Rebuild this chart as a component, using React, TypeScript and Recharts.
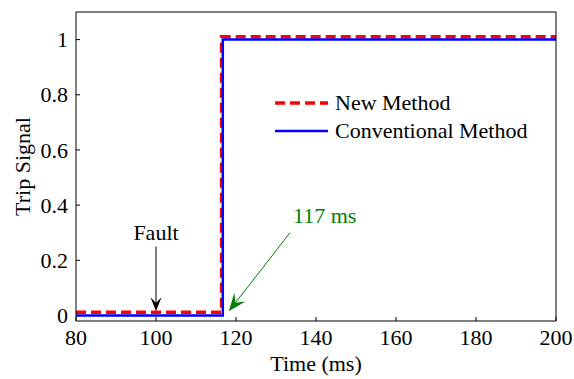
import { LineChart, Line, XAxis, YAxis, ReferenceLine } from "recharts";

// step signals: time (ms) -> trip signal
const newMethodT = [80, 116.4, 200];
const newMethodV = [0.012, 1.01, 1.01];
const convT = [80, 116.7, 200];
const convV = [0, 1, 1];

const xTicks = [80, 100, 120, 140, 160, 180, 200];
const yTicks = [0, 0.2, 0.4, 0.6, 0.8, 1];

const FONT = "'Liberation Serif', 'Times New Roman', serif";

const newData = newMethodT.map((t, i) => ({ t, v: newMethodV[i] }));
const convData = convT.map((t, i) => ({ t, v: convV[i] }));

function arrowShape(color: string, label: string, textSide: "top" | "right", L: number, W: number) {
  return (props: any) => {
    const { x1, y1, x2, y2 } = props;
    const ang = Math.atan2(y2 - y1, x2 - x1);
    const bx = x2 - L * Math.cos(ang);
    const by = y2 - L * Math.sin(ang);
    const nx = -Math.sin(ang);
    const ny = Math.cos(ang);
    const mx = x2 - L * 0.6 * Math.cos(ang);
    const my = y2 - L * 0.6 * Math.sin(ang);
    const pts = [
      [x2, y2],
      [bx + nx * W, by + ny * W],
      [mx, my],
      [bx - nx * W, by - ny * W],
    ]
      .map((p) => p.join(","))
      .join(" ");
    return (
      <g>
        <line x1={x1} y1={y1} x2={mx} y2={my} stroke={color} strokeWidth={1} />
        <polygon points={pts} fill={color} />
        {textSide === "top" ? (
          <text x={x1} y={y1 - 7} textAnchor="middle" fontFamily={FONT} fontSize={22} fill="#000">
            {label}
          </text>
        ) : (
          <text x={x1 + 3} y={y1 - 10} textAnchor="start" fontFamily={FONT} fontSize={22} fill={color}>
            {label}
          </text>
        )}
      </g>
    );
  };
}

function XTick(props: any) {
  const { x, y, payload } = props;
  return (
    <text x={x} y={y} dy="0.71em" textAnchor="middle" fontFamily={FONT} fontSize={22} fill="#000">
      {payload.value}
    </text>
  );
}

function YTick(props: any) {
  const { x, y, payload } = props;
  return (
    <text x={x} y={y} dy="0.35em" textAnchor="end" fontFamily={FONT} fontSize={22} fill="#000">
      {String(payload.value)}
    </text>
  );
}

function LegendBox() {
  const rows = [
    { name: "New Method", color: "#ff0000", dash: "10 5", w: 3.5 },
    { name: "Conventional Method", color: "#0000ff", dash: undefined, w: 2.5 },
  ];
  return (
    <div style={{ position: "absolute", left: 275, top: 89, fontFamily: FONT, fontSize: 22, color: "#000" }}>
      {rows.map((r) => (
        <div key={r.name} style={{ display: "flex", alignItems: "center", height: 28 }}>
          <svg width={56} height={10} style={{ marginRight: 4 }}>
            <line x1={0} y1={5} x2={53} y2={5} stroke={r.color} strokeWidth={r.w} strokeDasharray={r.dash} />
          </svg>
          <span style={{ whiteSpace: "nowrap" }}>{r.name}</span>
        </div>
      ))}
    </div>
  );
}

export default function App() {
  const labelStyle = { fontFamily: FONT, fontSize: 22, fill: "#000" };
  return (
    <div style={{ position: "absolute", left: 0, top: 0, width: 574, height: 379, background: "#fff", fontFamily: FONT }}>
      <LineChart width={574} height={379} margin={{ top: 11, right: 17, left: 0, bottom: 0 }} style={{ fontFamily: FONT }}>
        <XAxis
          xAxisId="b"
          dataKey="t"
          type="number"
          domain={[80, 200]}
          ticks={xTicks}
          allowDataOverflow
          height={58}
          stroke="#000"
          tickSize={-4}
          tickMargin={12}
          tick={<XTick />}
          label={{ value: "Time (ms)", position: "insideBottom", offset: 8, style: labelStyle }}
        />
        <XAxis
          xAxisId="t"
          orientation="top"
          dataKey="t"
          type="number"
          domain={[80, 200]}
          ticks={xTicks}
          height={1}
          stroke="#000"
          tickSize={-4}
          tick={() => <g />}
        />
        <YAxis
          yAxisId="l"
          type="number"
          domain={[-0.02, 1.1]}
          ticks={yTicks}
          allowDataOverflow
          width={76}
          stroke="#000"
          tickSize={-4}
          tickMargin={12}
          tick={<YTick />}
          label={{ value: "Trip Signal", angle: -90, position: "center", dx: -16, style: labelStyle }}
        />
        <YAxis
          yAxisId="r"
          orientation="right"
          type="number"
          domain={[-0.02, 1.1]}
          ticks={yTicks}
          width={1}
          stroke="#000"
          tickSize={-4}
          tick={() => <g />}
        />
        <Line
          xAxisId="b"
          yAxisId="l"
          data={newData}
          dataKey="v"
          type="stepAfter"
          stroke="#ff0000"
          strokeWidth={3.5}
          strokeDasharray="10 5"
          dot={false}
          isAnimationActive={false}
        />
        <Line
          xAxisId="b"
          yAxisId="l"
          data={convData}
          dataKey="v"
          type="stepAfter"
          stroke="#0000ff"
          strokeWidth={2.5}
          dot={false}
          isAnimationActive={false}
        />
        <ReferenceLine
          xAxisId="b"
          yAxisId="l"
          segment={[{ x: 100, y: 0.25 }, { x: 100, y: 0.015 }]}
          shape={arrowShape("#000", "Fault", "top", 14, 5.5)}
          ifOverflow="visible"
        />
        <ReferenceLine
          xAxisId="b"
          yAxisId="l"
          segment={[{ x: 133.5, y: 0.3 }, { x: 118.2, y: 0.015 }]}
          shape={arrowShape("#008000", "117 ms", "right", 18, 7)}
          ifOverflow="visible"
        />
      </LineChart>
      <LegendBox />
    </div>
  );
}
